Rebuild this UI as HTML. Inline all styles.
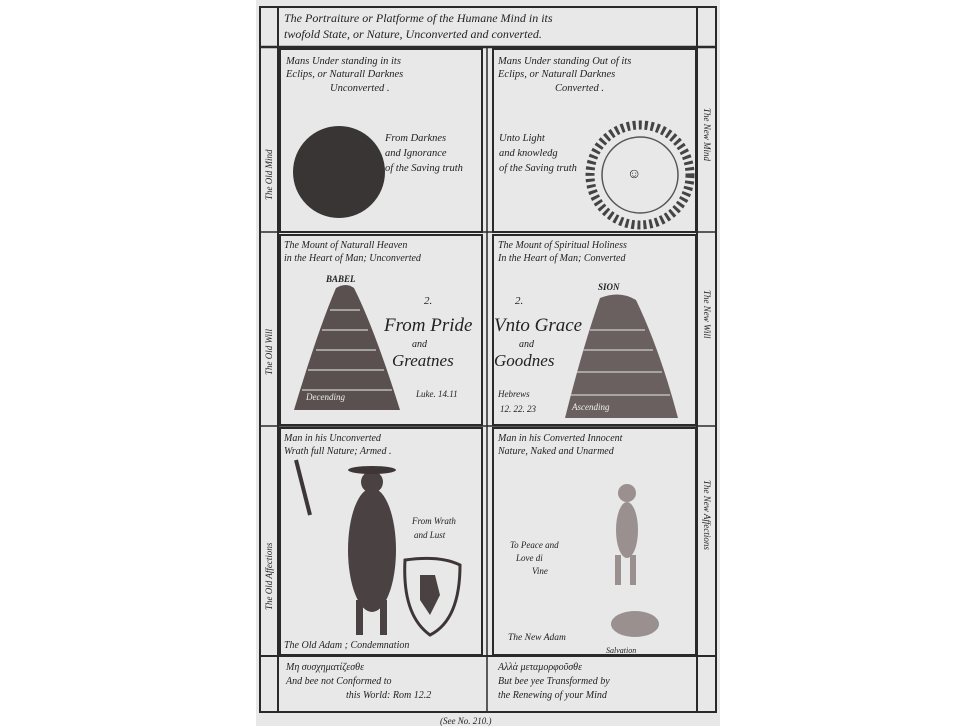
<!DOCTYPE html>
<html><head><meta charset="utf-8"><style>
body{margin:0;background:#fff;}
svg{display:block}
text{font-family:"Liberation Serif",serif;font-style:italic;fill:#222;}
</style></head><body>
<svg width="975" height="726" viewBox="0 0 975 726">
<rect x="256" y="0" width="464" height="726" fill="#e8e8e8"/>
<g stroke="#2a2a2a" fill="none">
<rect x="260" y="7" width="456" height="705" stroke-width="2"/>
<line x1="260" y1="47" x2="716" y2="47" stroke-width="2.5"/>
<line x1="278" y1="7" x2="278" y2="712" stroke-width="2"/>
<line x1="697" y1="7" x2="697" y2="712" stroke-width="2"/>
<rect x="280" y="49" width="202" height="183" stroke-width="2"/>
<rect x="493" y="49" width="203" height="183" stroke-width="2"/>
<rect x="280" y="235" width="202" height="190" stroke-width="2"/>
<rect x="493" y="235" width="203" height="190" stroke-width="2"/>
<rect x="280" y="428" width="202" height="227" stroke-width="2"/>
<rect x="493" y="428" width="203" height="227" stroke-width="2"/>
<line x1="260" y1="232" x2="716" y2="232" stroke-width="1.5"/>
<line x1="260" y1="426" x2="716" y2="426" stroke-width="1.5"/>
<line x1="260" y1="656" x2="716" y2="656" stroke-width="2"/>
<line x1="487" y1="47" x2="487" y2="712" stroke-width="1.5"/>
</g>
<text x="284" y="22" font-size="12">The Portraiture or Platforme of the Humane Mind in its</text>
<text x="284" y="38" font-size="12">twofold State, or Nature, Unconverted and converted.</text>
<text x="286" y="64" font-size="10.5">Mans Under standing in its</text>
<text x="286" y="77" font-size="10.5">Eclips, or Naturall Darknes</text>
<text x="330" y="91" font-size="10.5">Unconverted .</text>
<text x="498" y="64" font-size="10.5">Mans Under standing Out of its</text>
<text x="498" y="77" font-size="10.5">Eclips, or Naturall Darknes</text>
<text x="555" y="91" font-size="10.5">Converted .</text>
<circle cx="339" cy="172" r="46" fill="#3a3535"/>
<text x="385" y="141" font-size="10.5">From Darknes</text>
<text x="385" y="156" font-size="10.5">and Ignorance</text>
<text x="385" y="171" font-size="10.5">of the Saving truth</text>
<text x="499" y="141" font-size="10.5">Unto Light</text>
<text x="499" y="156" font-size="10.5">and knowledg</text>
<text x="499" y="171" font-size="10.5">of the Saving truth</text>
<circle cx="640" cy="175" r="50" fill="none" stroke="#444" stroke-width="9" stroke-dasharray="3 3"/>
<circle cx="640" cy="175" r="38" fill="none" stroke="#555" stroke-width="1.5"/>
<text x="627" y="178" font-size="14" font-style="normal">☺</text>
<text x="284" y="248" font-size="10">The Mount of Naturall Heaven</text>
<text x="284" y="261" font-size="10">in the Heart of Man; Unconverted</text>
<text x="498" y="248" font-size="10">The Mount of Spiritual Holiness</text>
<text x="498" y="261" font-size="10">In the Heart of Man; Converted</text>
<text x="326" y="282" font-size="9" font-style="normal" font-weight="bold">BABEL</text>
<text x="598" y="290" font-size="9" font-style="normal" font-weight="bold">SION</text>
<path d="M336 288 Q346 282 354 288 Q375 330 400 410 L294 410 Q318 330 336 288 Z" fill="#5a5050"/>
<path d="M600 298 Q620 290 636 300 Q660 350 678 418 L565 418 Q582 350 600 298 Z" fill="#6a6060"/>
<g stroke="#bbb" stroke-width="1.5"><line x1="330" y1="310" x2="360" y2="310"/><line x1="322" y1="330" x2="368" y2="330"/><line x1="316" y1="350" x2="376" y2="350"/><line x1="308" y1="370" x2="384" y2="370"/><line x1="302" y1="390" x2="392" y2="390"/><line x1="590" y1="330" x2="645" y2="330"/><line x1="583" y1="350" x2="653" y2="350"/><line x1="577" y1="372" x2="662" y2="372"/><line x1="571" y1="395" x2="670" y2="395"/></g>
<text x="424" y="304" font-size="11" font-style="normal">2.</text>
<text x="384" y="331" font-size="19" font-style="normal">From Pride</text>
<text x="412" y="347" font-size="10">and</text>
<text x="392" y="366" font-size="17" font-style="normal">Greatnes</text>
<text x="416" y="397" font-size="9">Luke. 14.11</text>
<text x="306" y="400" font-size="9" style="fill:#eee">Decending</text>
<text x="515" y="304" font-size="11" font-style="normal">2.</text>
<text x="494" y="331" font-size="19" font-style="normal">Vnto Grace</text>
<text x="519" y="347" font-size="10">and</text>
<text x="494" y="366" font-size="17" font-style="normal">Goodnes</text>
<text x="498" y="397" font-size="9">Hebrews</text>
<text x="500" y="412" font-size="9">12. 22. 23</text>
<text x="572" y="410" font-size="9" style="fill:#eee">Ascending</text>
<text x="284" y="441" font-size="10">Man in his Unconverted</text>
<text x="284" y="454" font-size="10">Wrath full Nature; Armed .</text>
<text x="498" y="441" font-size="10">Man in his Converted Innocent</text>
<text x="498" y="454" font-size="10">Nature, Naked and Unarmed</text>
<g fill="#4a4242"><ellipse cx="372" cy="550" rx="24" ry="62"/><circle cx="372" cy="482" r="11"/><rect x="356" y="600" width="7" height="35"/><rect x="380" y="600" width="7" height="35"/><line x1="296" y1="460" x2="310" y2="515" stroke="#3e3636" stroke-width="4"/></g>
<path d="M405 560 q35 -5 55 5 q0 55 -30 70 q-28 -20 -25 -75z" fill="none" stroke="#3e3636" stroke-width="3"/>
<path d="M420 575 l15 0 l5 20 l-10 20 l-10 -15z" fill="#4a4242"/>
<ellipse cx="372" cy="470" rx="24" ry="4" fill="#3e3636"/>
<text x="412" y="524" font-size="9">From Wrath</text>
<text x="414" y="538" font-size="9">and Lust</text>
<text x="284" y="648" font-size="10">The Old Adam ; Condemnation</text>
<g fill="#9a9090"><circle cx="627" cy="493" r="9"/><ellipse cx="627" cy="530" rx="11" ry="28"/><rect x="615" y="555" width="6" height="30"/><rect x="630" y="555" width="6" height="30"/><ellipse cx="635" cy="624" rx="24" ry="13"/></g>
<text x="510" y="548" font-size="9">To Peace and</text>
<text x="516" y="561" font-size="9">Love di</text>
<text x="532" y="574" font-size="9">Vine</text>
<text x="508" y="640" font-size="9.5">The New Adam</text>
<text x="606" y="653" font-size="8">Salvation</text>
<text x="286" y="670" font-size="10">Mη συσχηματίζεσθε</text>
<text x="286" y="684" font-size="10">And bee not Conformed to</text>
<text x="346" y="698" font-size="10">this World: Rom 12.2</text>
<text x="498" y="670" font-size="10">Αλλὰ μεταμορφοῦσθε</text>
<text x="498" y="684" font-size="10">But bee yee Transformed by</text>
<text x="498" y="698" font-size="10">the Renewing of your Mind</text>
<g font-size="9" fill="#333">
<text transform="translate(272,200) rotate(-90)">The Old Mind</text>
<text transform="translate(272,375) rotate(-90)">The Old Will</text>
<text transform="translate(272,610) rotate(-90)">The Old Affections</text>
<text transform="translate(704,108) rotate(90)">The New Mind</text>
<text transform="translate(704,290) rotate(90)">The New Will</text>
<text transform="translate(704,480) rotate(90)">The New Affections</text>
</g>
<text x="440" y="724" font-size="9">(See No. 210.)</text>
</svg>
</body></html>
